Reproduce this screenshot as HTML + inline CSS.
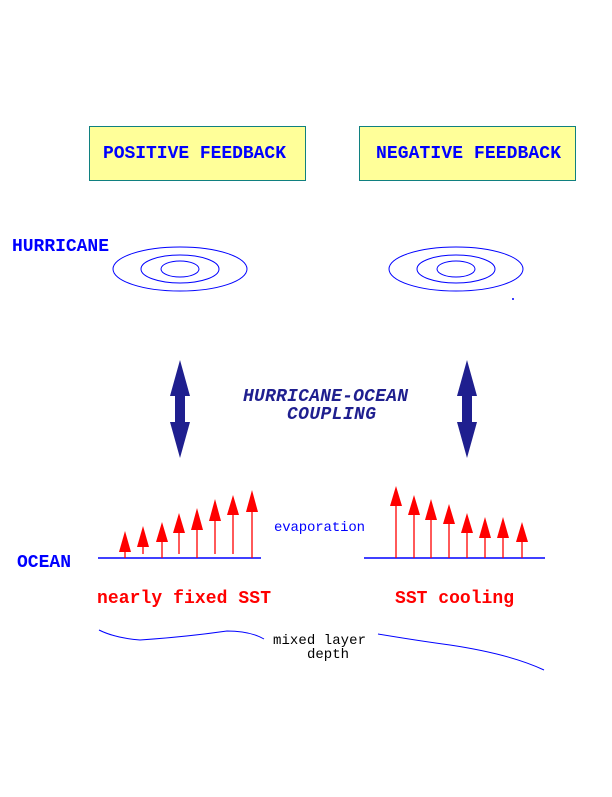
<!DOCTYPE html>
<html><head><meta charset="utf-8"><style>
html,body{margin:0;padding:0;background:#fff}
svg text{font-family:"Liberation Mono",monospace;font-weight:bold}
</style></head><body>
<svg width="612" height="792" viewBox="0 0 612 792" xmlns="http://www.w3.org/2000/svg">
<rect x="89.5" y="126.5" width="216" height="54" fill="#ffff99" stroke="#108080" stroke-width="1"/>
<rect x="359.5" y="126.5" width="216" height="54" fill="#ffff99" stroke="#108080" stroke-width="1"/>
<text x="103" y="158" font-size="18" fill="#0000ff" textLength="183">POSITIVE FEEDBACK</text>
<text x="376" y="158" font-size="18" fill="#0000ff" textLength="185">NEGATIVE FEEDBACK</text>
<text x="12" y="251" font-size="18" fill="#0000ff" textLength="97">HURRICANE</text>
<g fill="none" stroke="#0000ff" stroke-width="1">
<ellipse cx="180" cy="269" rx="67" ry="22"/><ellipse cx="180" cy="269" rx="39" ry="14"/><ellipse cx="180" cy="269" rx="19" ry="8"/>
<ellipse cx="456" cy="269" rx="67" ry="22"/><ellipse cx="456" cy="269" rx="39" ry="14"/><ellipse cx="456" cy="269" rx="19" ry="8"/>
</g>
<circle cx="513" cy="299" r="1" fill="#0000ff"/>
<g fill="#1f1f8f">
<polygon points="180,360 190,396 185,396 185,422 190,422 180,458 170,422 175,422 175,396 170,396"/>
<polygon points="467,360 477,396 472,396 472,422 477,422 467,458 457,422 462,422 462,396 457,396"/>
</g>
<text x="243" y="401" font-size="18" fill="#1f1f8f" font-style="italic" textLength="165">HURRICANE-OCEAN</text>
<text x="287" y="419" font-size="18" fill="#1f1f8f" font-style="italic" textLength="89">COUPLING</text>
<text x="274" y="531" font-size="14" fill="#0000ff" style="font-weight:normal" textLength="91">evaporation</text>
<text x="17" y="567" font-size="18" fill="#0000ff" textLength="54">OCEAN</text>
<line x1="98" y1="558" x2="261" y2="558" stroke="#0000ff" stroke-width="1.5"/>
<line x1="364" y1="558" x2="545" y2="558" stroke="#0000ff" stroke-width="1.5"/>
<g stroke="#ff0000" stroke-width="1.3">
<line x1="125" y1="545" x2="125" y2="558"/><line x1="143" y1="540" x2="143" y2="554"/><line x1="162" y1="535" x2="162" y2="558"/><line x1="179" y1="526" x2="179" y2="554"/><line x1="197" y1="523" x2="197" y2="558"/><line x1="215" y1="514" x2="215" y2="554"/><line x1="233" y1="508" x2="233" y2="554"/><line x1="252" y1="505" x2="252" y2="558"/>
<line x1="396" y1="500" x2="396" y2="558"/><line x1="414" y1="508" x2="414" y2="558"/><line x1="431" y1="513" x2="431" y2="558"/><line x1="449" y1="517" x2="449" y2="558"/><line x1="467" y1="526" x2="467" y2="558"/><line x1="485" y1="531" x2="485" y2="558"/><line x1="503" y1="531" x2="503" y2="558"/><line x1="522" y1="535" x2="522" y2="558"/>
</g>
<g fill="#ff0000">
<polygon points="125,531 131,552 119,552"/><polygon points="143,526 149,547 137,547"/><polygon points="162,522 168,542 156,542"/><polygon points="179,513 185,533 173,533"/><polygon points="197,508 203,530 191,530"/><polygon points="215,499 221,521 209,521"/><polygon points="233,495 239,515 227,515"/><polygon points="252,490 258,512 246,512"/>
<polygon points="396,486 402,506 390,506"/><polygon points="414,495 420,515 408,515"/><polygon points="431,499 437,520 425,520"/><polygon points="449,504 455,524 443,524"/><polygon points="467,513 473,533 461,533"/><polygon points="485,517 491,538 479,538"/><polygon points="503,517 509,538 497,538"/><polygon points="522,522 528,542 516,542"/>
</g>
<text x="97" y="603" font-size="18" fill="#ff0000" textLength="174">nearly fixed SST</text>
<text x="395" y="603" font-size="18" fill="#ff0000" textLength="119">SST cooling</text>
<path d="M99,630 Q115,638 140,640 Q185,637 227,631 Q250,631 264,639" fill="none" stroke="#0000ff" stroke-width="1"/>
<path d="M378,634 Q420,641 450,645 Q510,654 544,670" fill="none" stroke="#0000ff" stroke-width="1"/>
<text x="273" y="644" font-size="14" fill="#000" style="font-weight:normal" textLength="93">mixed layer</text>
<text x="307" y="658" font-size="14" fill="#000" style="font-weight:normal" textLength="42">depth</text>
</svg>
</body></html>
